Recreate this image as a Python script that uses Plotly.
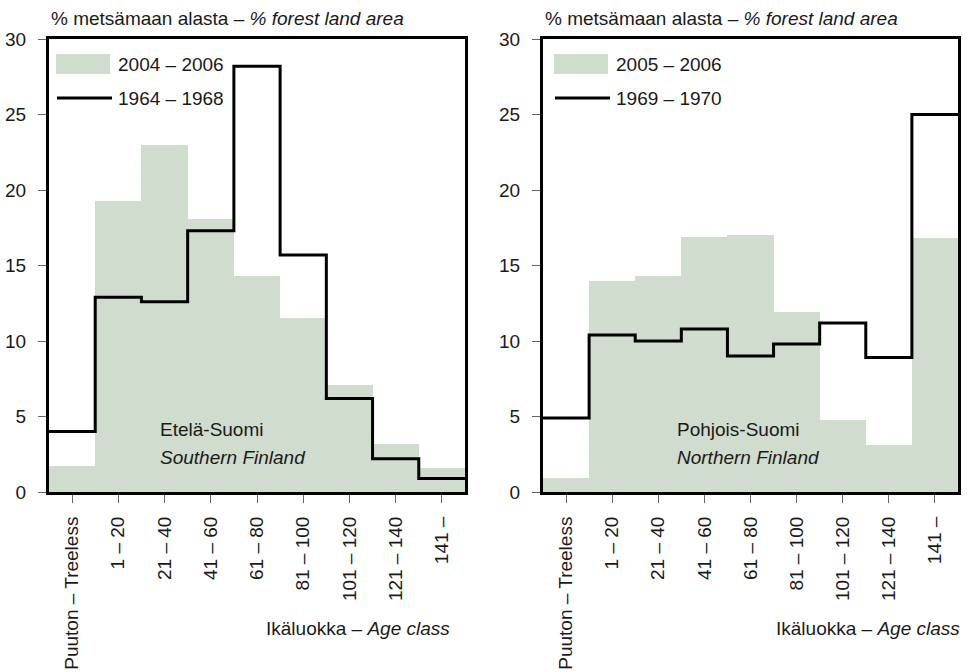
import plotly.graph_objects as go
import numpy as np

categories = ["Puuton – Treeless", "1 – 20", "21 – 40", "41 – 60", "61 – 80",
              "81 – 100", "101 – 120", "121 – 140", "141 –"]
south_2004_2006 = [1.7, 19.3, 23.0, 18.1, 14.3, 11.5, 7.1, 3.2, 1.6]
south_1964_1968 = [4.0, 12.9, 12.6, 17.3, 28.2, 15.7, 6.2, 2.2, 0.9]
north_2005_2006 = [0.9, 14.0, 14.3, 16.9, 17.0, 11.9, 4.8, 3.1, 16.8]
north_1969_1970 = [4.9, 10.4, 10.0, 10.8, 9.0, 9.8, 11.2, 8.9, 25.0]
y_ticks = [0, 5, 10, 15, 20, 25, 30]

W, H = 967, 672
FONT = "Liberation Sans Narrow, Arial Narrow, Liberation Sans, sans-serif"
FS = 19
GREEN = "#d0dccd"
TXT = "#1a1a1a"

def px(x):
    return x / W

def py(y):
    return 1 - y / H

idx = np.arange(len(categories))
edges = np.arange(len(categories) + 1) - 0.5

fig = go.Figure()

panels = [
    ("x", "y", south_2004_2006, south_1964_1968),
    ("x2", "y2", north_2005_2006, north_1969_1970),
]
for xa, ya, bars, line in panels:
    fig.add_trace(go.Bar(x=idx, y=bars, marker=dict(color=GREEN, line=dict(width=0)),
                         width=1.0, xaxis=xa, yaxis=ya, showlegend=False, hoverinfo="skip"))
    fig.add_trace(go.Scatter(x=edges, y=list(line) + [line[-1]], mode="lines",
                             line=dict(color="black", width=3, shape="hv"),
                             xaxis=xa, yaxis=ya, showlegend=False, hoverinfo="skip"))

ybot, ytop = py(492), py(39)
xdom1 = [px(49), px(465)]
xdom2 = [px(543), px(958)]

def xaxis(dom, anchor):
    return dict(domain=dom, anchor=anchor, range=[-0.5, 8.5], automargin=False,
                tickmode="array", tickvals=list(idx), ticktext=categories,
                tickangle=-90, ticks="outside", ticklen=8, tickwidth=1, tickcolor="#666",
                showline=True, linecolor="black", linewidth=3, mirror=True,
                showgrid=False, zeroline=False, ticklabelstandoff=6,
                tickfont=dict(family=FONT, size=FS, color=TXT))

def yaxis(anchor):
    return dict(domain=[ybot, ytop], anchor=anchor, range=[0, 30], automargin=False,
                tickmode="array", tickvals=y_ticks,
                ticks="outside", ticklen=8, tickwidth=1, tickcolor="#666",
                showline=True, linecolor="black", linewidth=3, mirror=True,
                showgrid=False, zeroline=False, ticklabelstandoff=8,
                tickfont=dict(family=FONT, size=FS, color=TXT))

fig.update_layout(
    template="none",
    width=W, height=H, margin=dict(l=0, r=0, t=0, b=0, autoexpand=False),
    paper_bgcolor="white", plot_bgcolor="white", bargap=0,
    font=dict(family=FONT, size=FS, color=TXT),
    xaxis=xaxis(xdom1, "y"), yaxis=yaxis("x"),
    xaxis2=xaxis(xdom2, "y2"), yaxis2=yaxis("x2"),
    showlegend=False,
)

annotations = []
shapes = []
panel_info = [
    (49, 56, "2004 – 2006", "1964 – 1968", 158, "Etelä-Suomi", "Southern Finland", 452),
    (543, 554, "2005 – 2006", "1969 – 1970", 675, "Pohjois-Suomi", "Northern Finland", 962),
]
for tx, lx, lab1, lab2, rx, reg1, reg2, axr in panel_info:
    annotations.append(dict(x=px(tx), y=py(18), xref="paper", yref="paper",
                            text="% metsämaan alasta – <i>% forest land area</i>",
                            showarrow=False, xanchor="left", yanchor="middle"))
    shapes.append(dict(type="rect", xref="paper", yref="paper",
                       x0=px(lx), x1=px(lx + 54), y0=py(74), y1=py(54),
                       fillcolor=GREEN, line=dict(width=0)))
    shapes.append(dict(type="line", xref="paper", yref="paper",
                       x0=px(lx + 1), x1=px(lx + 56), y0=py(98), y1=py(98),
                       line=dict(color="black", width=3)))
    annotations.append(dict(x=px(lx + 60), y=py(64), xref="paper", yref="paper",
                            text=lab1, showarrow=False, xanchor="left", yanchor="middle"))
    annotations.append(dict(x=px(lx + 60), y=py(98), xref="paper", yref="paper",
                            text=lab2, showarrow=False, xanchor="left", yanchor="middle"))
    annotations.append(dict(x=px(rx), y=py(430), xref="paper", yref="paper",
                            text=reg1, showarrow=False, xanchor="left", yanchor="middle"))
    annotations.append(dict(x=px(rx), y=py(457), xref="paper", yref="paper",
                            text="<i>" + reg2 + "</i>", showarrow=False,
                            xanchor="left", yanchor="middle"))
    annotations.append(dict(x=px(axr), y=py(628), xref="paper", yref="paper",
                            text="Ikäluokka – <i>Age class</i>", showarrow=False,
                            xanchor="right", yanchor="middle"))

fig.update_layout(annotations=annotations, shapes=shapes)
fig.write_html("out.html", config={"displayModeBar": False},
               post_script="document.body.style.margin='0';document.body.style.overflow='hidden';")
